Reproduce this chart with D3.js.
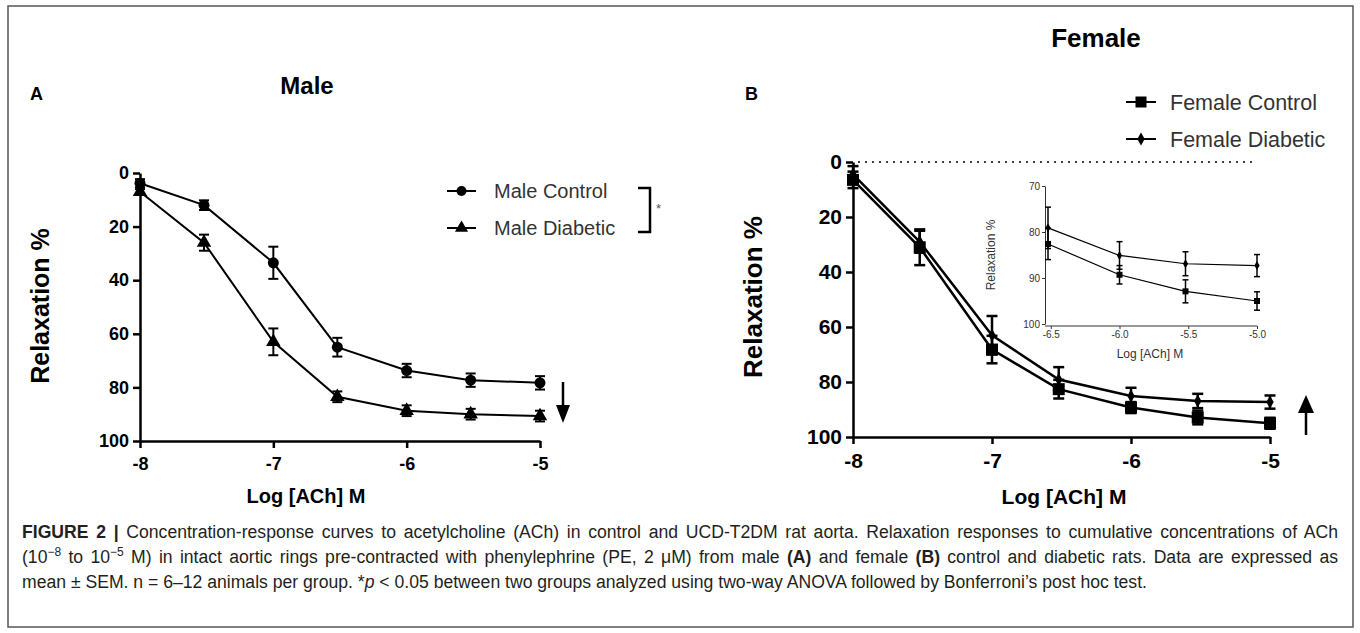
<!DOCTYPE html>
<html>
<head>
<meta charset="utf-8">
<script src="https://cdn.jsdelivr.net/npm/d3@7"></script>
<style>
  body { margin: 0; background: #fff; }
  svg text { font-family: "Liberation Sans", Arial, sans-serif; }
</style>
</head>
<body>
<div id="fig"></div>
<script>
// log concentration steps (half-log steps are 3x10^n)
var logConc = [-8, -7.52, -7, -6.52, -6, -5.52, -5];

var maleControl = [3.8, 12, 33.5, 65, 73.7, 77.3, 78.3];
var maleControlErr = [1.5, 1.8, 6, 3.5, 2.5, 2.5, 2.5];
var maleDiabetic = [7, 26, 63, 83.5, 88.7, 90, 90.7];
var maleDiabeticErr = [1, 3, 5, 2, 2, 2, 2];

var femaleControl = [6.5, 31, 68.2, 82.6, 89.3, 92.9, 95];
var femaleControlErr = [3, 6.5, 5, 3.4, 2, 2.5, 2];
var femaleDiabetic = [4.5, 29, 63, 79.1, 85.1, 86.9, 87.3];
var femaleDiabeticErr = [3, 4, 7, 4.5, 3, 2.6, 2.4];

var yTicksMain = [0, 20, 40, 60, 80, 100];
var xTicksMain = [-8, -7, -6, -5];
var yTicksInset = [70, 80, 90, 100];
var xTicksInset = [-6.5, -6.0, -5.5, -5.0];

var svg = d3.select("#fig").append("svg").attr("width", 1360).attr("height", 633);

// frame
svg.append("rect").attr("x", 8).attr("y", 6).attr("width", 1345).attr("height", 621)
  .attr("fill", "none").attr("stroke", "#555").attr("stroke-width", 1.5);

function styleAxis(g, fs, sw) {
  g.select(".domain").attr("stroke", "#000").attr("stroke-width", sw);
  g.selectAll(".tick line").attr("stroke", "#000").attr("stroke-width", sw);
  g.selectAll(".tick text").attr("fill", "#000").attr("font-size", fs).attr("font-weight", "bold")
    .attr("font-family", "Liberation Sans, Arial, sans-serif");
}

function marker(g, shape, x, y, s) {
  if (shape == "circle") {
    g.append("circle").attr("cx", x).attr("cy", y).attr("r", s).attr("fill", "#000");
  } else if (shape == "triangle") {
    g.append("path").attr("transform", "translate(" + x + "," + y + ")")
      .attr("d", d3.symbol(d3.symbolTriangle, s * s * 3)).attr("fill", "#000");
  } else if (shape == "square") {
    g.append("rect").attr("x", x - s).attr("y", y - s).attr("width", 2 * s).attr("height", 2 * s).attr("fill", "#000");
  } else {
    g.append("path").attr("transform", "translate(" + x + "," + y + ")")
      .attr("d", d3.symbol(d3.symbolDiamond, s * s * 3)).attr("fill", "#000");
  }
}

function series(g, x, y, xs, vals, errs, opt) {
  var line = d3.line().x(function(d, i) { return x(xs[i]); }).y(function(d) { return y(d); });
  g.append("path").datum(vals).attr("d", line).attr("fill", "none")
    .attr("stroke", "#000").attr("stroke-width", opt.lw);
  vals.forEach(function(v, i) {
    var cx = x(xs[i]);
    var y1 = y(v - errs[i]), y2 = y(v + errs[i]);
    g.append("line").attr("x1", cx).attr("x2", cx).attr("y1", y1).attr("y2", y2)
      .attr("stroke", "#000").attr("stroke-width", opt.ew);
    [y1, y2].forEach(function(yy) {
      g.append("line").attr("x1", cx - opt.cap).attr("x2", cx + opt.cap).attr("y1", yy).attr("y2", yy)
        .attr("stroke", "#000").attr("stroke-width", opt.ew);
    });
    marker(g, opt.shape, cx, y(v), opt.ms);
  });
}

var intFmt = function(d) { return String(d); };
var decFmt = function(d) { return d.toFixed(1); };

// ---------- Panel A (male) ----------
var xA = d3.scaleLinear().domain([-8, -5]).range([140, 540]);
var yA = d3.scaleLinear().domain([0, 100]).range([173, 441]);
var gA = svg.append("g");

gA.append("g").attr("transform", "translate(140,0)")
  .call(d3.axisLeft(yA).tickValues(yTicksMain).tickFormat(intFmt).tickSize(7).tickSizeOuter(0).tickPadding(4))
  .call(styleAxis, 18, 2.5);
gA.append("g").attr("transform", "translate(0,441)")
  .call(d3.axisBottom(xA).tickValues(xTicksMain).tickFormat(intFmt).tickSize(7).tickSizeOuter(0).tickPadding(9))
  .call(styleAxis, 18, 2.5);

series(gA, xA, yA, logConc, maleControl, maleControlErr, { lw: 2, ew: 2, cap: 5, shape: "circle", ms: 5.5 });
series(gA, xA, yA, logConc, maleDiabetic, maleDiabeticErr, { lw: 2, ew: 2, cap: 5, shape: "triangle", ms: 5.5 });

gA.append("text").attr("x", 30).attr("y", 100).attr("font-size", 18).attr("font-weight", "bold").text("A");
gA.append("text").attr("x", 307).attr("y", 94).attr("text-anchor", "middle")
  .attr("font-size", 24).attr("font-weight", "bold").text("Male");
gA.append("text").attr("transform", "translate(49,306) rotate(-90)").attr("text-anchor", "middle")
  .attr("font-size", 25).attr("font-weight", "bold").text("Relaxation %");
gA.append("text").attr("x", 306).attr("y", 503).attr("text-anchor", "middle")
  .attr("font-size", 20).attr("font-weight", "bold").text("Log [ACh] M");

// legend A
var legA = gA.append("g");
[["Male Control", "circle", 191], ["Male Diabetic", "triangle", 228]].forEach(function(d) {
  legA.append("line").attr("x1", 447).attr("x2", 476).attr("y1", d[2]).attr("y2", d[2])
    .attr("stroke", "#000").attr("stroke-width", 2);
  marker(legA, d[1], 461.5, d[2], 5);
  legA.append("text").attr("x", 494).attr("y", d[2] + 7).attr("font-size", 20).attr("fill", "#333").text(d[0]);
});
legA.append("path").attr("d", "M638,188 H650 V232 H638").attr("fill", "none")
  .attr("stroke", "#000").attr("stroke-width", 2.5);
legA.append("text").attr("x", 656).attr("y", 213).attr("font-size", 13).attr("fill", "#555").text("*");

// down arrow
gA.append("line").attr("x1", 563).attr("x2", 563).attr("y1", 382).attr("y2", 410)
  .attr("stroke", "#000").attr("stroke-width", 2.5);
gA.append("path").attr("d", "M556,405 L570,405 L563,423 Z").attr("fill", "#000");

// ---------- Panel B (female) ----------
var xB = d3.scaleLinear().domain([-8, -5]).range([853, 1270]);
var yB = d3.scaleLinear().domain([0, 100]).range([162, 437]);
var gB = svg.append("g");

gB.append("line").attr("x1", 858).attr("x2", 1252).attr("y1", yB(0)).attr("y2", yB(0))
  .attr("stroke", "#000").attr("stroke-width", 1.5).attr("stroke-dasharray", "2,5");

gB.append("g").attr("transform", "translate(853,0)")
  .call(d3.axisLeft(yB).tickValues(yTicksMain).tickFormat(intFmt).tickSize(7).tickSizeOuter(0).tickPadding(4))
  .call(styleAxis, 21, 2.5);
gB.append("g").attr("transform", "translate(0,437)")
  .call(d3.axisBottom(xB).tickValues(xTicksMain).tickFormat(intFmt).tickSize(7).tickSizeOuter(0).tickPadding(9))
  .call(styleAxis, 21, 2.5);

series(gB, xB, yB, logConc, femaleDiabetic, femaleDiabeticErr, { lw: 2.5, ew: 2.5, cap: 5.5, shape: "diamond", ms: 4 });
series(gB, xB, yB, logConc, femaleControl, femaleControlErr, { lw: 2.5, ew: 2.5, cap: 5.5, shape: "square", ms: 6 });

gB.append("text").attr("x", 745).attr("y", 100).attr("font-size", 18).attr("font-weight", "bold").text("B");
gB.append("text").attr("x", 1096).attr("y", 47).attr("text-anchor", "middle")
  .attr("font-size", 26).attr("font-weight", "bold").text("Female");
gB.append("text").attr("transform", "translate(762,297) rotate(-90)").attr("text-anchor", "middle")
  .attr("font-size", 26).attr("font-weight", "bold").text("Relaxation %");
gB.append("text").attr("x", 1064).attr("y", 504).attr("text-anchor", "middle")
  .attr("font-size", 21).attr("font-weight", "bold").text("Log [ACh] M");

// legend B
var legB = gB.append("g");
[["Female Control", "square", 102], ["Female Diabetic", "diamond", 139]].forEach(function(d) {
  legB.append("line").attr("x1", 1126).attr("x2", 1156).attr("y1", d[2]).attr("y2", d[2])
    .attr("stroke", "#000").attr("stroke-width", 2);
  marker(legB, d[1], 1141, d[2], d[1] == "square" ? 5.5 : 4);
  legB.append("text").attr("x", 1170).attr("y", d[2] + 8).attr("font-size", 21.5).attr("fill", "#333").text(d[0]);
});

// up arrow
gB.append("line").attr("x1", 1306).attr("x2", 1306).attr("y1", 408).attr("y2", 435)
  .attr("stroke", "#000").attr("stroke-width", 2.5);
gB.append("path").attr("d", "M1298,413 L1314,413 L1306,395 Z").attr("fill", "#000");

// inset
var xI = d3.scaleLinear().domain([-6.52, -5]).range([1048, 1257]);
var yI = d3.scaleLinear().domain([70, 100]).range([186, 324]);
var gI = gB.append("g");
function styleInset(g) {
  g.select(".domain").attr("stroke", "#333");
  g.selectAll(".tick line").attr("stroke", "#333");
  g.selectAll(".tick text").attr("font-size", 10).attr("fill", "#333")
    .attr("font-family", "Liberation Sans Narrow, Liberation Sans, sans-serif");
}
gI.append("g").attr("transform", "translate(1045,0)")
  .call(d3.axisLeft(yI).tickValues(yTicksInset).tickFormat(intFmt).tickSize(3).tickSizeOuter(0).tickPadding(2))
  .call(styleInset);
gI.append("g").attr("transform", "translate(0,326)")
  .call(d3.axisBottom(xI).tickValues(xTicksInset).tickFormat(decFmt).tickSize(3).tickSizeOuter(0).tickPadding(2))
  .call(styleInset)
  .call(function(g) { g.select(".domain").attr("d", "M1045,0H1257"); });
var lx = logConc.slice(3);
series(gI, xI, yI, lx, femaleDiabetic.slice(3), femaleDiabeticErr.slice(3), { lw: 1.2, ew: 1.5, cap: 3, shape: "diamond", ms: 2.8 });
series(gI, xI, yI, lx, femaleControl.slice(3), femaleControlErr.slice(3), { lw: 1.2, ew: 1.5, cap: 3, shape: "square", ms: 3 });
gI.append("text").attr("transform", "translate(995,255) rotate(-90)").attr("text-anchor", "middle")
  .attr("font-size", 12).attr("fill", "#333").text("Relaxation %");
gI.append("text").attr("x", 1150).attr("y", 358).attr("text-anchor", "middle")
  .attr("font-size", 12).attr("fill", "#333")
  .attr("font-family", "Liberation Sans Narrow, Liberation Sans, sans-serif").text("Log [ACh] M");

// ---------- caption (justified lines 1-2) ----------
var cap = svg.append("g").attr("font-size", 17.6).attr("fill", "#231f20");
var l1 = cap.append("text").attr("x", 22).attr("y", 538);
l1.append("tspan").attr("font-weight", "bold").text("FIGURE 2 | ");
l1.append("tspan").text("Concentration-response curves to acetylcholine (ACh) in control and UCD-T2DM rat aorta. Relaxation responses to cumulative concentrations of ACh");
var l2 = cap.append("text").attr("x", 22).attr("y", 563);
l2.append("tspan").text("(10");
l2.append("tspan").attr("font-size", 12).attr("dy", -7).text("\u22128");
l2.append("tspan").attr("dy", 7).text(" to 10");
l2.append("tspan").attr("font-size", 12).attr("dy", -7).text("\u22125");
l2.append("tspan").attr("dy", 7).text(" M) in intact aortic rings pre-contracted with phenylephrine (PE, 2 \u03bcM) from male ");
l2.append("tspan").attr("font-weight", "bold").text("(A)");
l2.append("tspan").text(" and female ");
l2.append("tspan").attr("font-weight", "bold").text("(B)");
l2.append("tspan").text(" control and diabetic rats. Data are expressed as");
var l3 = cap.append("text").attr("x", 22).attr("y", 588);
l3.append("tspan").text("mean \u00b1 SEM. n = 6\u201312 animals per group. *");
l3.append("tspan").attr("font-style", "italic").text("p");
l3.append("tspan").text(" < 0.05 between two groups analyzed using two-way ANOVA followed by Bonferroni\u2019s post hoc test.");

[l1, l2].forEach(function(t) {
  var w = t.node().getComputedTextLength();
  var spaces = t.text().split(" ").length - 1;
  var ws = (1338 - 22 - w) / spaces;
  if (ws > 0) t.attr("word-spacing", ws);
});
</script>
</body>
</html>
